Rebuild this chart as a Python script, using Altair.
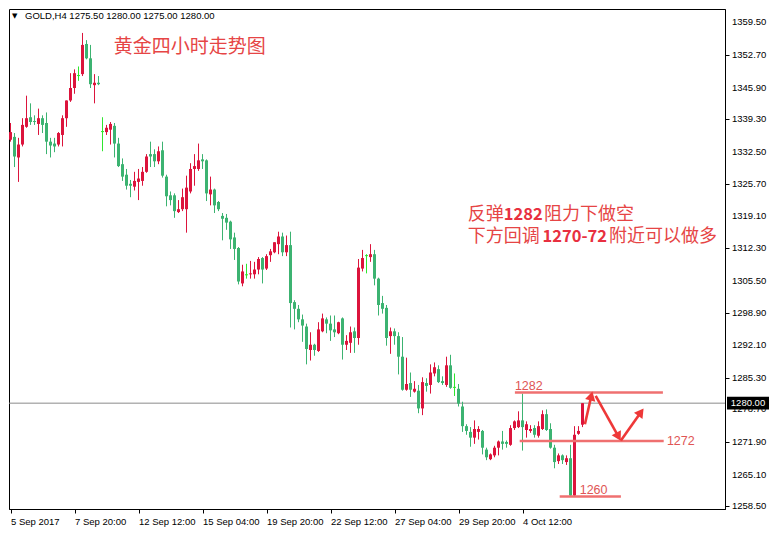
import altair as alt
import pandas as pd

# ---------------- data (GOLD H4 candles) ----------------
bar_index = list(range(144))
opens = [1335.0, 1335.6, 1331.3, 1334.0, 1337.7, 1339.7, 1338.9, 1338.3, 1339.5, 1338.5,
         1334.6, 1334.2, 1334.0, 1336.0, 1339.5, 1343.2, 1345.8, 1348.4, 1348.7, 1355.0,
         1352.0, 1346.4, 1346.9, 1336.7, 1336.6, 1337.1, 1337.9, 1334.2, 1329.9, 1327.7,
         1325.8, 1325.2, 1326.2, 1326.4, 1328.3, 1332.0, 1332.0, 1330.5, 1332.8, 1327.3,
         1323.4, 1323.4, 1319.9, 1320.5, 1320.5, 1324.2, 1328.9, 1328.9, 1330.9, 1330.7,
         1323.6, 1324.6, 1322.0, 1319.1, 1318.7, 1317.9, 1314.6, 1312.4, 1305.0, 1306.8,
         1306.9, 1306.9, 1307.9, 1310.3, 1308.1, 1310.9, 1311.5, 1313.2, 1314.8, 1311.5,
         1313.0, 1301.1, 1299.7, 1297.5, 1296.0, 1291.1, 1292.2, 1290.9, 1295.0, 1297.5,
         1296.6, 1295.4, 1294.6, 1297.7, 1292.2, 1292.6, 1295.0, 1293.6, 1308.1, 1310.8,
         1310.5, 1311.1, 1306.0, 1300.9, 1299.9, 1294.0, 1295.0, 1294.0, 1289.7, 1282.8,
         1284.2, 1282.4, 1282.6, 1278.9, 1284.2, 1283.8, 1286.2, 1287.1, 1284.6, 1283.8,
         1287.9, 1283.3, 1283.0, 1279.3, 1275.2, 1274.0, 1272.8, 1274.0, 1274.2, 1270.3,
         1268.3, 1269.1, 1270.7, 1272.0, 1271.9, 1271.3, 1274.8, 1275.0, 1276.4, 1274.4,
         1274.2, 1274.8, 1273.2, 1274.6, 1277.7, 1274.6, 1270.7, 1267.9, 1269.1, 1267.7,
         1268.5, 1260.7, 1273.6, 1275.5]
highs = [1338.5, 1336.4, 1335.4, 1339.5, 1344.2, 1342.6, 1340.1, 1341.5, 1340.1, 1340.7,
         1335.4, 1335.4, 1336.6, 1340.1, 1343.2, 1348.9, 1349.7, 1350.3, 1357.3, 1355.8,
         1354.8, 1348.7, 1348.3, 1339.7, 1338.1, 1338.7, 1338.5, 1335.4, 1331.1, 1328.9,
         1326.6, 1328.3, 1328.9, 1329.3, 1332.0, 1334.6, 1333.0, 1333.6, 1334.6, 1327.7,
         1324.2, 1323.8, 1322.4, 1324.8, 1327.5, 1330.1, 1332.0, 1334.2, 1332.0, 1330.9,
         1327.3, 1324.8, 1322.2, 1319.7, 1319.5, 1318.1, 1315.6, 1312.6, 1308.9, 1309.1,
         1309.7, 1309.5, 1310.5, 1310.5, 1311.1, 1312.2, 1313.6, 1315.8, 1315.6, 1315.0,
         1315.8, 1301.5, 1300.5, 1298.5, 1296.6, 1294.8, 1292.4, 1296.9, 1298.7, 1297.9,
         1298.3, 1298.3, 1297.0, 1297.9, 1294.2, 1296.0, 1295.8, 1310.1, 1312.0, 1311.1,
         1313.2, 1312.0, 1306.2, 1302.4, 1300.5, 1295.8, 1295.6, 1294.8, 1293.8, 1289.5,
         1286.4, 1284.6, 1283.8, 1285.4, 1285.2, 1288.1, 1288.5, 1287.9, 1285.6, 1289.7,
         1290.1, 1286.2, 1284.0, 1280.3, 1275.6, 1275.0, 1276.4, 1275.2, 1274.4, 1270.7,
         1269.5, 1271.1, 1272.2, 1274.2, 1272.2, 1275.4, 1276.4, 1278.3, 1282.0, 1276.2,
         1275.4, 1275.4, 1276.2, 1278.5, 1278.7, 1275.8, 1271.3, 1269.5, 1269.3, 1269.1,
         1271.3, 1275.2, 1275.2, 1280.0]
lows = [1334.6, 1329.3, 1326.2, 1333.6, 1337.5, 1338.1, 1338.1, 1336.0, 1336.4, 1332.0,
        1331.3, 1332.4, 1333.6, 1333.6, 1337.7, 1342.9, 1344.6, 1347.3, 1348.3, 1351.8,
        1345.8, 1342.6, 1346.4, 1332.6, 1336.0, 1334.0, 1331.3, 1329.3, 1326.4, 1324.6,
        1323.0, 1324.4, 1322.4, 1325.4, 1328.1, 1329.3, 1329.3, 1329.9, 1327.1, 1321.1,
        1321.3, 1318.7, 1319.7, 1320.1, 1315.6, 1323.8, 1325.4, 1328.5, 1328.9, 1322.2,
        1321.3, 1319.7, 1320.1, 1314.0, 1316.2, 1312.2, 1309.9, 1304.8, 1304.4, 1306.0,
        1306.0, 1306.0, 1306.9, 1305.0, 1307.8, 1309.5, 1311.3, 1311.1, 1310.7, 1310.7,
        1295.8, 1295.4, 1296.9, 1292.8, 1288.1, 1288.9, 1289.9, 1290.7, 1294.8, 1294.6,
        1293.0, 1293.8, 1294.4, 1289.1, 1291.1, 1290.5, 1290.5, 1292.2, 1307.5, 1307.1,
        1309.5, 1304.6, 1298.3, 1298.7, 1292.0, 1290.3, 1292.2, 1286.0, 1282.6, 1282.6,
        1281.3, 1282.2, 1277.9, 1277.5, 1282.4, 1282.0, 1285.6, 1284.2, 1283.8, 1283.4,
        1283.0, 1281.5, 1279.3, 1274.0, 1273.4, 1270.9, 1271.5, 1272.4, 1269.3, 1268.1,
        1268.1, 1268.7, 1269.1, 1270.3, 1270.7, 1271.1, 1274.4, 1274.8, 1270.1, 1272.8,
        1273.8, 1272.8, 1272.8, 1274.4, 1274.2, 1270.5, 1266.4, 1267.3, 1267.3, 1267.1,
        1260.5, 1260.5, 1273.4, 1275.0]
closes = [1336.6, 1331.5, 1334.0, 1338.1, 1339.5, 1338.7, 1338.7, 1339.5, 1338.1, 1334.6,
          1333.8, 1333.6, 1336.4, 1339.5, 1343.2, 1345.8, 1348.9, 1348.4, 1354.8, 1352.0,
          1346.6, 1346.9, 1346.6, 1336.7, 1337.5, 1338.3, 1334.2, 1329.5, 1327.3, 1325.4,
          1325.4, 1326.4, 1326.9, 1328.3, 1331.5, 1331.5, 1330.5, 1332.6, 1327.5, 1323.2,
          1322.4, 1320.1, 1320.5, 1323.0, 1325.0, 1328.9, 1329.5, 1330.7, 1330.5, 1323.8,
          1324.6, 1321.3, 1320.5, 1318.5, 1317.7, 1314.2, 1312.2, 1305.4, 1307.5, 1306.8,
          1307.1, 1307.9, 1310.1, 1307.9, 1310.7, 1311.7, 1313.6, 1314.8, 1311.5, 1313.0,
          1300.9, 1299.7, 1297.5, 1296.2, 1291.3, 1292.2, 1291.1, 1295.4, 1297.7, 1296.6,
          1295.2, 1294.8, 1296.9, 1292.2, 1293.0, 1294.8, 1293.6, 1308.3, 1310.3, 1310.8,
          1311.1, 1306.0, 1300.5, 1299.7, 1293.6, 1295.0, 1294.0, 1289.7, 1282.8, 1284.0,
          1282.8, 1283.0, 1278.9, 1284.4, 1283.6, 1286.4, 1287.5, 1284.4, 1284.2, 1287.9,
          1283.2, 1283.3, 1279.9, 1275.2, 1274.2, 1272.8, 1274.6, 1274.6, 1270.7, 1268.7,
          1269.3, 1270.7, 1272.0, 1271.5, 1271.5, 1274.8, 1276.2, 1276.4, 1275.0, 1275.6,
          1274.6, 1273.4, 1275.2, 1277.7, 1274.4, 1270.7, 1267.7, 1269.1, 1268.1, 1268.5,
          1260.7, 1273.4, 1274.2, 1280.0]

tick_positions = [0, 16, 32, 48, 64, 80, 96, 112, 128]
tick_labels = ["5 Sep 2017", "7 Sep 20:00", "12 Sep 12:00", "15 Sep 04:00", "19 Sep 20:00",
               "22 Sep 12:00", "27 Sep 04:00", "29 Sep 20:00", "4 Oct 12:00"]
price_ticks = [1359.50, 1352.70, 1345.90, 1339.30, 1332.50, 1325.70, 1319.10, 1312.30,
               1305.50, 1298.90, 1292.10, 1285.30, 1278.70, 1271.90, 1265.10, 1258.50]

header_text = "GOLD,H4  1275.50 1280.00 1275.00 1280.00"
current_price = 1280.0

title_text = ["黄金四小时走势图"]
title_pos = [(25.8, 1354.4)]
note_regular = ["反弹", "阻力下做空", "下方回调", "附近可以做多"]
note_regular_pos = [(114.3, 1319.3), (133.4, 1319.3), (114.3, 1314.7), (149.6, 1314.7)]
note_bold = ["1282", "1270-72"]
note_bold_pos = [(123.3, 1319.3), (133.0, 1314.7)]

level_prices = [1282.2, 1272.1, 1260.5]
level_starts = [126.1, 127.3, 137.3]
level_ends = [163.1, 163.3, 152.6]
level_labels = ["1282", "1272", "1260"]
level_label_pos = [(126.1, 1283.6), (164.1, 1272.2), (142.3, 1261.8)]

arrow_from = [(143.6, 1275.6), (146.3, 1281.5), (152.6, 1272.2)]
arrow_to = [(145.2, 1281.5), (152.0, 1273.0), (157.6, 1278.1)]
arrow_angles = [14, 151, 36]

# ---------------- layout ----------------
W, H = 716, 500
FONT = "Liberation Sans"
CJK = "Noto Sans CJK SC"
UP, DOWN, FLAT = "#dc143c", "#3cb371", "#2ee62e"
RED_TXT = "#e64545"
LEVEL_RED = "#ef7070"
ARROW_RED = "#ee3838"

df = pd.DataFrame({"i": bar_index, "open": opens, "high": highs, "low": lows, "close": closes})
df["dir"] = ["up" if c > o else ("down" if c < o else "flat") for o, c in zip(opens, closes)]

xscale = alt.Scale(domain=[-0.375, -0.375 + W / 4], nice=False, zero=False)
yscale = alt.Scale(domain=[1257.9, 1362.3], nice=False, zero=False)
color = alt.Color("dir:N", scale=alt.Scale(domain=["up", "down", "flat"], range=[UP, DOWN, FLAT]), legend=None)

label_expr = "[" + ",".join("'" + s + "'" for s in tick_labels) + "][round(datum.value/16)]"
x_axis = alt.Axis(values=tick_positions, labelExpr=label_expr, labelAlign="left", labelBaseline="top",
                  labelPadding=3, tickSize=4, tickColor="#000", domainColor="#000", labelColor="#000",
                  labelFont=FONT, labelFontSize=9.5, labelOverlap=False, labelBound=False,
                  labelFlush=False, grid=False, title=None)
# right price axis: ticks from the axis, labels drawn as a text layer so none is dropped
y_axis = alt.Axis(orient="right", values=price_ticks, tickSize=4, tickColor="#000",
                  domainColor="#000", labels=False, grid=False, title=None)

base = alt.Chart(df)

wicks = base.mark_rule(strokeWidth=1).encode(
    x=alt.X("i:Q", scale=xscale, axis=x_axis, title=None),
    y=alt.Y("low:Q", scale=yscale, axis=y_axis, title=None),
    y2="high:Q",
    color=color,
)
bodies = base.transform_filter("datum.dir != 'flat'").transform_calculate(
    x0="datum.i - 0.375", x1="datum.i + 0.375"
).mark_rect().encode(
    x=alt.X("x0:Q", scale=xscale, title=None), x2="x1:Q",
    y=alt.Y("open:Q", scale=yscale, title=None), y2="close:Q",
    color=color,
)
dojis = base.transform_filter("datum.dir == 'flat'").transform_calculate(
    x0="datum.i - 0.375", x1="datum.i + 0.375"
).mark_rule(strokeWidth=1).encode(
    x=alt.X("x0:Q", scale=xscale, title=None), x2="x1:Q",
    y=alt.Y("open:Q", scale=yscale, title=None),
    color=color,
)

price_line = alt.Chart(pd.DataFrame({"p": [current_price]})).mark_rule(color="#8a8a8a", strokeWidth=1).encode(
    y=alt.Y("p:Q", scale=yscale, title=None)
)

tick_df = pd.DataFrame({"p": price_ticks})
price_labels = alt.Chart(tick_df).transform_calculate(t="format(datum.p, '.2f')").mark_text(
    align="left", baseline="middle", font=FONT, fontSize=9.5, color="#000"
).encode(x=alt.value(W + 7), y=alt.Y("p:Q", scale=yscale, title=None), text="t:N")

levels_df = pd.DataFrame({"x0": level_starts, "x1": level_ends, "p": level_prices})
levels = alt.Chart(levels_df).mark_rule(color=LEVEL_RED, strokeWidth=2.5).encode(
    x=alt.X("x0:Q", scale=xscale, title=None), x2="x1:Q", y=alt.Y("p:Q", scale=yscale, title=None)
)
lvl_lab_df = pd.DataFrame({"t": level_labels, "x": [p[0] for p in level_label_pos], "y": [p[1] for p in level_label_pos]})
level_text = alt.Chart(lvl_lab_df).mark_text(align="left", baseline="middle", font=FONT, fontSize=12.5,
                                             color="#e05555").encode(
    x=alt.X("x:Q", scale=xscale, title=None), y=alt.Y("y:Q", scale=yscale, title=None), text="t:N"
)

shaft_df = pd.DataFrame({"x0": [a[0] for a in arrow_from], "y0": [a[1] for a in arrow_from],
                         "x1": [b[0] for b in arrow_to], "y1": [b[1] for b in arrow_to]})
shafts = alt.Chart(shaft_df).mark_rule(color=ARROW_RED, strokeWidth=2.6).encode(
    x=alt.X("x0:Q", scale=xscale, title=None), x2="x1:Q",
    y=alt.Y("y0:Q", scale=yscale, title=None), y2="y1:Q",
)
head_df = pd.DataFrame({"x": [b[0] for b in arrow_to], "y": [b[1] for b in arrow_to], "a": arrow_angles})
heads = alt.Chart(head_df).mark_point(shape="triangle-up", filled=True, size=110, opacity=1,
                                      color=ARROW_RED).encode(
    x=alt.X("x:Q", scale=xscale, title=None), y=alt.Y("y:Q", scale=yscale, title=None),
    angle=alt.Angle("a:Q", scale=None),
)

title_df = pd.DataFrame({"t": title_text, "x": [p[0] for p in title_pos], "y": [p[1] for p in title_pos]})
title = alt.Chart(title_df).mark_text(align="left", baseline="middle", font=CJK, fontSize=19,
                                      color=RED_TXT).encode(
    x=alt.X("x:Q", scale=xscale, title=None), y=alt.Y("y:Q", scale=yscale, title=None), text="t:N"
)
reg_df = pd.DataFrame({"t": note_regular, "x": [p[0] for p in note_regular_pos], "y": [p[1] for p in note_regular_pos]})
notes_reg = alt.Chart(reg_df).mark_text(align="left", baseline="middle", font=CJK, fontSize=18,
                                        color=RED_TXT).encode(
    x=alt.X("x:Q", scale=xscale, title=None), y=alt.Y("y:Q", scale=yscale, title=None), text="t:N"
)
bold_df = pd.DataFrame({"t": note_bold, "x": [p[0] for p in note_bold_pos], "y": [p[1] for p in note_bold_pos]})
notes_bold = alt.Chart(bold_df).mark_text(align="left", baseline="middle", font=CJK, fontSize=16.5,
                                          fontWeight="bold", color="#e83040").encode(
    x=alt.X("x:Q", scale=xscale, title=None), y=alt.Y("y:Q", scale=yscale, title=None), text="t:N"
)

box_df = pd.DataFrame({"hi": [current_price + 1.35], "lo": [current_price - 1.35], "p": [current_price],
                       "t": [f"{current_price:.2f}"]})
price_box = alt.Chart(box_df).mark_rect(color="#000").encode(
    x=alt.value(W + 2), x2=alt.value(W + 44),
    y=alt.Y("hi:Q", scale=yscale, title=None), y2="lo:Q",
)
price_box_text = alt.Chart(box_df).mark_text(align="center", baseline="middle", font=FONT, fontSize=9.5,
                                             color="#fff").encode(
    x=alt.value(W + 23), y=alt.Y("p:Q", scale=yscale, title=None), text="t:N"
)

hdr_df = pd.DataFrame({"t": [header_text], "m": ["▼"]})
header_tri = alt.Chart(hdr_df).mark_text(align="left", baseline="middle", font="DejaVu Sans", fontSize=7,
                                         color="#000").encode(x=alt.value(3), y=alt.value(7), text="m:N")
header = alt.Chart(hdr_df).mark_text(align="left", baseline="middle", font=FONT, fontSize=9.5,
                                     color="#000").encode(x=alt.value(16), y=alt.value(7), text="t:N")

chart = alt.layer(
    price_line, wicks, bodies, dojis, price_labels, levels, level_text, shafts, heads,
    title, notes_reg, notes_bold, price_box, price_box_text, header_tri, header,
).properties(
    width=W, height=H, background="#ffffff",
    padding={"left": 1, "top": 1, "right": 45, "bottom": 19},
    autosize=alt.AutoSizeParams(type="none"),
).configure_view(
    stroke="#000", strokeWidth=1
)

chart.save("out.html", embed_options={"renderer": "svg", "actions": False})
